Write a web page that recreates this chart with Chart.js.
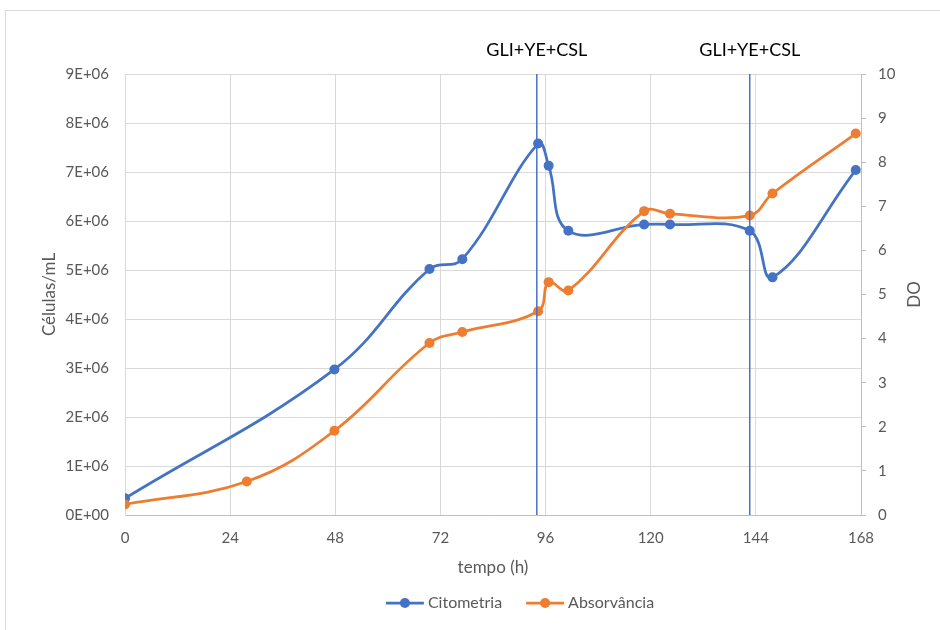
<!DOCTYPE html>
<html lang="pt">
<head>
<meta charset="utf-8">
<title>Citometria e Absorvância</title>
<script src="https://cdn.jsdelivr.net/npm/chart.js@4.4.0/dist/chart.umd.min.js"></script>
<style>
  html, body { margin: 0; padding: 0; background: #fff; }
  .page { position: relative; width: 940px; height: 630px; overflow: hidden; background: #fff; }
  .frame { position: absolute; left: 5px; top: 10px; width: 960px; height: 650px; border: 1px solid #d9d9d9; }
  .chart-box { position: absolute; left: 0; top: 0; width: 940px; height: 630px; }
</style>
</head>
<body>
<div class="page">
  <div class="frame"></div>
  <div class="chart-box"><canvas id="chart"></canvas></div>
</div>
<script>
// tempo (h) das amostras
const hours = [0, 27.8, 47.8, 69.5, 77, 94.3, 96.7, 101.2, 118.5, 124.4, 142.6, 147.8, 166.8];
// células/mL (null = sem amostra)
const citometria = [0.34e6, null, 2.97e6, 5.02e6, 5.22e6, 7.58e6, 7.13e6, 5.80e6, 5.93e6, 5.93e6, 5.80e6, 4.85e6, 7.04e6];
// DO
const absorvancia = [0.24, 0.76, 1.91, 3.9, 4.15, 4.62, 5.28, 5.09, 6.89, 6.83, 6.79, 7.29, 8.65];

// adições de substrato
const additionHours = [94, 142.6];
const additionLabel = 'GLI+YE+CSL';

const seriesNames = ['Citometria', 'Absorvância'];
const seriesColors = ['#4472C4', '#ED7D31'];

const xTicks = { min: 0, max: 168, step: 24 };
const yLeftTicks = { min: 0, max: 9e6, step: 1e6 };
const yRightTicks = { min: 0, max: 10, step: 1 };

const FONT = 'Lato, "Open Sans", sans-serif';
const TICK_COLOR = '#595959';
const GRID_COLOR = '#d9d9d9';

function toPoints(xs, ys) {
  return xs.map((x, i) => ({ x: x, y: ys[i] })).filter(p => p.y !== null);
}

function sciLabel(v) {
  if (v === 0) return '0E+00';
  const e = Math.floor(Math.log10(v));
  const m = Math.round(v / Math.pow(10, e));
  return m + 'E+' + String(e).padStart(2, '0');
}

// rótulos das adições acima da área do gráfico
const additionText = {
  id: 'additionText',
  afterDraw(chart) {
    const ctx = chart.ctx;
    const x = chart.scales.x;
    ctx.save();
    ctx.font = '18px ' + FONT;
    ctx.fillStyle = '#000';
    ctx.textAlign = 'center';
    ctx.textBaseline = 'middle';
    additionHours.forEach(h => {
      ctx.fillText(additionLabel, x.getPixelForValue(h), chart.chartArea.top - 24);
    });
    ctx.restore();
  }
};

// título do eixo secundário, lido de baixo para cima como no Excel
const rightTitle = {
  id: 'rightTitle',
  afterDraw(chart) {
    const ctx = chart.ctx;
    const area = chart.chartArea;
    ctx.save();
    ctx.translate(915, (area.top + area.bottom) / 2);
    ctx.rotate(-Math.PI / 2);
    ctx.font = '17px ' + FONT;
    ctx.fillStyle = TICK_COLOR;
    ctx.textAlign = 'center';
    ctx.textBaseline = 'middle';
    ctx.fillText('DO', 0, 0);
    ctx.restore();
  }
};

// legenda no estilo do Excel (linha com marcador)
const lineLegend = {
  id: 'lineLegend',
  afterDraw(chart) {
    const ctx = chart.ctx;
    ctx.save();
    ctx.font = '16px ' + FONT;
    const markW = 38, gap = 4, itemGap = 24;
    const widths = seriesNames.map(n => ctx.measureText(n).width);
    const total = widths.reduce((a, w) => a + markW + gap + w, 0) + itemGap * (seriesNames.length - 1);
    let cx = 520 - total / 2;
    const cy = 603;
    seriesNames.forEach((name, i) => {
      ctx.strokeStyle = seriesColors[i];
      ctx.lineWidth = 2.75;
      ctx.beginPath();
      ctx.moveTo(cx, cy);
      ctx.lineTo(cx + markW, cy);
      ctx.stroke();
      ctx.fillStyle = seriesColors[i];
      ctx.beginPath();
      ctx.arc(cx + markW / 2, cy, 5, 0, Math.PI * 2);
      ctx.fill();
      ctx.fillStyle = TICK_COLOR;
      ctx.textAlign = 'left';
      ctx.textBaseline = 'middle';
      ctx.fillText(name, cx + markW + gap, cy);
      cx += markW + gap + widths[i] + itemGap;
    });
    ctx.restore();
  }
};

const datasets = [
  {
    label: seriesNames[0],
    data: toPoints(hours, citometria),
    yAxisID: 'y',
    borderColor: seriesColors[0],
    backgroundColor: seriesColors[0],
    borderWidth: 2.75,
    pointRadius: 5,
    pointBorderWidth: 0,
    tension: 0.4,
    order: 2
  },
  {
    label: seriesNames[1],
    data: toPoints(hours, absorvancia),
    yAxisID: 'y2',
    borderColor: seriesColors[1],
    backgroundColor: seriesColors[1],
    borderWidth: 2.75,
    pointRadius: 5,
    pointBorderWidth: 0,
    tension: 0.4,
    order: 1
  }
];

additionHours.forEach(h => {
  datasets.push({
    label: additionLabel,
    data: [{ x: h, y: yLeftTicks.min }, { x: h, y: yLeftTicks.max }],
    yAxisID: 'y',
    borderColor: seriesColors[0],
    borderWidth: 1.5,
    pointRadius: 0,
    tension: 0,
    order: 0
  });
});

new Chart(document.getElementById('chart'), {
  type: 'line',
  data: { datasets: datasets },
  options: {
    responsive: true,
    maintainAspectRatio: false,
    animation: false,
    layout: { padding: { left: 0, right: 0, top: 74, bottom: 50 } },
    plugins: {
      legend: { display: false },
      tooltip: { enabled: false }
    },
    scales: {
      x: {
        type: 'linear',
        min: xTicks.min,
        max: xTicks.max,
        afterFit: s => { s.height = 65; },
        ticks: { stepSize: xTicks.step, color: TICK_COLOR, font: { family: FONT, size: 15 }, padding: 14 },
        grid: { color: GRID_COLOR, drawTicks: false },
        border: { color: '#bfbfbf' },
        title: { display: true, text: 'tempo (h)', color: TICK_COLOR, font: { family: FONT, size: 17 }, padding: { top: 0, bottom: 2 } }
      },
      y: {
        position: 'left',
        min: yLeftTicks.min,
        max: yLeftTicks.max,
        afterFit: s => { s.width = 125; },
        ticks: { stepSize: yLeftTicks.step, color: TICK_COLOR, font: { family: FONT, size: 15 }, padding: 16, callback: v => sciLabel(v) },
        grid: { color: GRID_COLOR, drawTicks: false },
        border: { color: GRID_COLOR },
        title: { display: true, text: 'Células/mL', color: TICK_COLOR, font: { family: FONT, size: 17 }, padding: { top: 39, bottom: 0 } }
      },
      y2: {
        position: 'right',
        min: yRightTicks.min,
        max: yRightTicks.max,
        afterFit: s => { s.width = 79; },
        ticks: { stepSize: yRightTicks.step, color: TICK_COLOR, font: { family: FONT, size: 15 }, padding: 12 },
        grid: { drawOnChartArea: false, drawTicks: true, tickLength: 5, color: '#bfbfbf' },
        border: { color: '#bfbfbf' },
        title: { display: false }
      }
    }
  },
  plugins: [additionText, rightTitle, lineLegend]
});
</script>
</body>
</html>
